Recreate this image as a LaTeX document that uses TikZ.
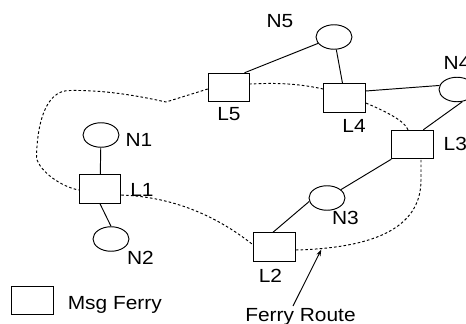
\documentclass[tikz,border=0pt]{standalone}
\usepackage{fontspec}
\setmainfont{Liberation Sans}
\usepackage{graphicx}
\usetikzlibrary{shapes.geometric,arrows.meta}

\newcommand{\lbltext}[1]{\scalebox{1.1}[1]{#1}}

\tikzset{
  ferrybox/.style={draw=black, line width=0.95pt, fill=white, rectangle,
    minimum width=41.5pt, minimum height=28.5pt, inner sep=0pt},
  hostnode/.style={draw=black, line width=0.95pt, fill=white, ellipse,
    minimum width=36pt, minimum height=24.5pt, inner sep=0pt},
  link/.style={draw=black, line width=0.95pt},
  route/.style={draw=black, line width=0.95pt, dash pattern=on 2.6pt off 2.2pt},
  lbl/.style={inner sep=0pt, font=\fontsize{19}{22}\selectfont},
}

\begin{document}
\begin{tikzpicture}[x=1pt, y=-1pt]
  \useasboundingbox (0,0) rectangle (466,324);

  % message ferries
  \node[ferrybox] (L1) at (100,189) {};
  \node[ferrybox] (L2) at (274.5,247) {};
  \node[ferrybox] (L3) at (412.5,144.5) {};
  \node[ferrybox] (L4) at (344.5,98) {};
  \node[ferrybox] (L5) at (229,87.5) {};

  % hosts
  \node[hostnode] (N1) at (101,135) {};
  \node[hostnode] (N2) at (111,239) {};
  \node[hostnode] (N3) at (327,198) {};
  \node[hostnode] (N4) at (457,89.5) {};
  \node[hostnode] (N5) at (334,37) {};

  % links between hosts and ferries
  \draw[link] (N1) -- (L1);
  \draw[link] (L1.south) -- (N2.north);
  \draw[link] ([xshift=15.5pt]L5.north) -- (N5);
  \draw[link] ([xshift=-2pt]L4.north) -- (N5);
  \draw[link] ([yshift=7pt]L4.east) -- (N4.167);
  \draw[link] (N4.294) -- ([xshift=10.8pt]L3.north);
  \draw[link] (L3.south west) -- (N3.31);
  \draw[link] (N3.191) -- ([xshift=-1.5pt]L2.north);

  % ferry route
  \coordinate (bend) at (166,102);
  \coordinate (topleft) at (70,90.5);
  \coordinate (farleft) at (36.5,158);
  \coordinate (rightdown) at (421,180);

  \draw[route] ([yshift=-1.5pt]L5.west) -- (bend)
    .. controls (130,94) and (100,90) .. (topleft)
    .. controls (45,90) and (37,125) .. (farleft)
    .. controls (40,172) and (62,187) .. ([yshift=-1pt]L1.west);
  \draw[route] ([yshift=-6pt]L1.east)
    .. controls (175,197) and (218,217) .. ([yshift=2pt]L2.west);
  \draw[route] ([yshift=-3pt]L2.east)
    .. controls (370,248) and (421,230) .. (rightdown)
    -- ([xshift=8.5pt]L3.south);
  \draw[route] ([xshift=-4.5pt]L3.north)
    .. controls (405,121) and (385,111) .. ([yshift=-5pt]L4.east);
  \draw[route] ([yshift=9pt]L4.west)
    .. controls (300,84) and (280,82.5) .. ([yshift=3.5pt]L5.east);

  % labels
  \node[lbl, anchor=base] (tN1) at (139,146.7) {\lbltext{N1}};
  \node[lbl, anchor=base] (tL1) at (142,196.7) {\lbltext{L1}};
  \node[lbl, anchor=base] (tN2) at (140.5,264) {\lbltext{N2}};
  \node[lbl, anchor=base] (tN5) at (280,27.7) {\lbltext{N5}};
  \node[lbl, anchor=base west] (tN4) at (443.5,69) {\lbltext{N4}};
  \node[lbl, anchor=base west] (tL3) at (443.5,150.7) {\lbltext{L3}};
  \node[lbl, anchor=base] (tL4) at (354,132.3) {\lbltext{L4}};
  \node[lbl, anchor=base] (tL5) at (229,120.7) {\lbltext{L5}};
  \node[lbl, anchor=base] (tN3) at (345.5,224.7) {\lbltext{N3}};
  \node[lbl, anchor=base] (tL2) at (270.5,282) {\lbltext{L2}};

  % legend
  \node[ferrybox] (legend) at (32.5,300.5) {};
  \node[lbl, anchor=base west] (tlegend) at (67.6,309.3) {\lbltext{Msg Ferry}};

  % route pointer
  \node[lbl, anchor=base] (troute) at (300.5,321.5) {\lbltext{Ferry Route}};
  \coordinate (ptail) at (293,306);
  \coordinate (ptip) at (321.3,249.6);
  \draw[link, -{Stealth[length=6.5pt, width=4.5pt]}] (ptail) -- (ptip);
\end{tikzpicture}
\end{document}
